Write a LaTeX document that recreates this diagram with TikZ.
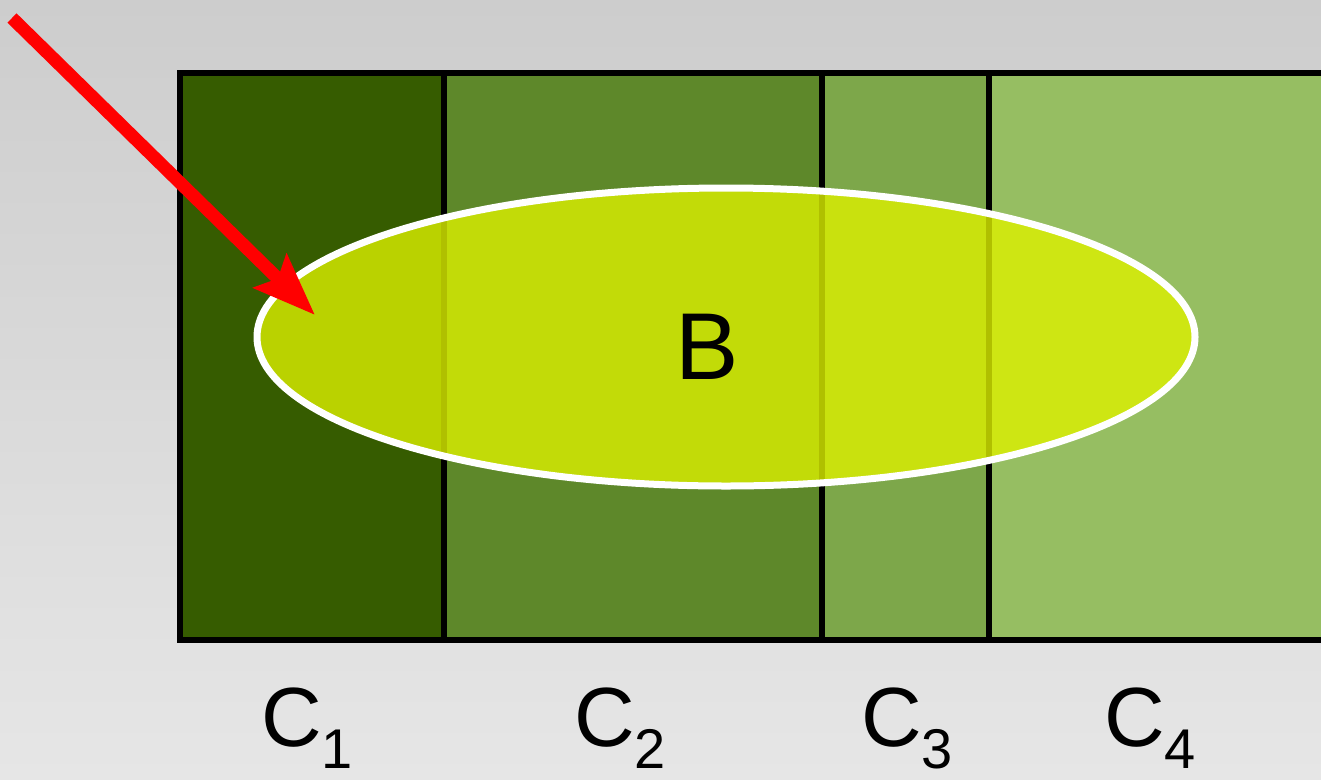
\documentclass[tikz,border=0pt]{standalone}
\usepackage{fontspec}
\setmainfont{Liberation Sans}
\usepackage{tikz}
\usetikzlibrary{shapes.geometric,arrows.meta,positioning}
\definecolor{BGTop}  {HTML}{CDCDCD}
\definecolor{BGBot}  {HTML}{E6E6E6}
\definecolor{CellA}  {HTML}{365C00}
\definecolor{CellB}  {HTML}{5E882A}
\definecolor{CellC}  {HTML}{7DA74A}
\definecolor{CellD}  {HTML}{96BE62}
\definecolor{BFill}  {HTML}{DCF000}

\begin{document}
\begin{tikzpicture}[x=1pt,y=-1pt]
    \clip (0,0) rectangle (1321,779);
    \shade[top color=BGTop,bottom color=BGBot] (0,0) rectangle (1321,779);
    % cells and labels
    \foreach \i/\xa/\xb/\col/\lx in {
      1/180/444/CellA/307,
      2/444/822/CellB/620,
      3/822/989/CellC/907,
      4/989/1340/CellD/1150%
    }{
      \fill[\col] (\xa,73) rectangle (\xb,640);
      \node[font=\fontsize{84}{90}\selectfont,anchor=base,inner sep=0pt] (c\i) at (\lx,746)
        {C\raisebox{-22pt}{\fontsize{56}{60}\selectfont\i}};
    }
    \foreach \xd in {444,822,989}{
      \draw[line width=6pt] (\xd,73) -- (\xd,640);
    }
    \draw[line width=6pt] (180,73) rectangle (1340,640);
    % set B
    \node[ellipse,draw=white,line width=7pt,fill=BFill,fill opacity=0.8,
          minimum width=938pt,minimum height=298pt,inner sep=0pt] (b) at (726,337) {};
    \node[font=\fontsize{95}{100}\selectfont] (blbl) at (707,347) {B};
    % pointer
    \coordinate (tail) at (12,18);
    \coordinate (tip) at (315,315);
    \draw[red,line width=13pt,-{Stealth[length=62pt,width=46pt,inset=10pt]}] (tail) -- (tip);
\end{tikzpicture}
\end{document}
